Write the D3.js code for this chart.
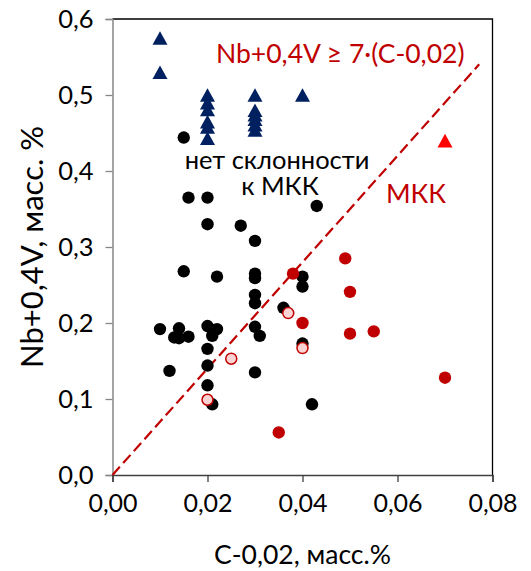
<!DOCTYPE html>
<html>
<head>
<meta charset="utf-8">
<script src="https://cdn.jsdelivr.net/npm/d3@7"></script>
<style>
  html, body { margin: 0; padding: 0; background: #fff; }
  svg { display: block; font-family: Lato, "Open Sans", sans-serif; }
</style>
</head>
<body>
<svg id="chart" width="531" height="571"></svg>
<script>
// Steels without a tendency to intergranular corrosion (triangles)
const navyTriangles = [
  [0.010, 0.575], [0.010, 0.530],
  [0.020, 0.500], [0.020, 0.490], [0.020, 0.481], [0.020, 0.465], [0.020, 0.458], [0.020, 0.443],
  [0.030, 0.500], [0.030, 0.480], [0.030, 0.474], [0.030, 0.468], [0.030, 0.461], [0.030, 0.454],
  [0.040, 0.500]
];
const redTriangles = [[0.070, 0.440]];

// Heats without intergranular corrosion (black circles)
const blackCircles = [
  [0.015, 0.444], [0.016, 0.365], [0.020, 0.365], [0.020, 0.330], [0.027, 0.328],
  [0.043, 0.354], [0.030, 0.308], [0.015, 0.268], [0.022, 0.261], [0.030, 0.265],
  [0.030, 0.259], [0.040, 0.261], [0.040, 0.248], [0.030, 0.237], [0.030, 0.226],
  [0.036, 0.220], [0.010, 0.192], [0.014, 0.193], [0.013, 0.181], [0.014, 0.180],
  [0.016, 0.182], [0.020, 0.196], [0.021, 0.191], [0.022, 0.192], [0.021, 0.183],
  [0.020, 0.166], [0.020, 0.144], [0.012, 0.137], [0.030, 0.195], [0.031, 0.183],
  [0.040, 0.173], [0.030, 0.135], [0.020, 0.118], [0.021, 0.093], [0.042, 0.093]
];

// Heats with intergranular corrosion (red circles)
const redCircles = [
  [0.038, 0.265], [0.040, 0.200], [0.049, 0.285], [0.050, 0.241],
  [0.050, 0.186], [0.055, 0.189], [0.070, 0.128], [0.035, 0.056]
];

// Borderline heats (pale circles with red outline)
const paleCircles = [
  [0.037, 0.213], [0.040, 0.167], [0.025, 0.153], [0.020, 0.099]
];

// Boundary Nb+0,4V = 7·(C-0,02)
const boundary = [[0, 0], [0.0772, 0.5404]];

const xTicks = [0, 0.02, 0.04, 0.06, 0.08];
const yTicks = [0, 0.1, 0.2, 0.3, 0.4, 0.5, 0.6];

const svg = d3.select("#chart");
const margin = { left: 112.5, right: 38.5, top: 19, bottom: 96 };
const W = 531, H = 571;

const x = d3.scaleLinear().domain([0, 0.08]).range([margin.left, W - margin.right]);
const y = d3.scaleLinear().domain([0, 0.6]).range([H - margin.bottom, margin.top]);

const fmtX = v => d3.format(".2f")(v).replace(".", ",");
const fmtY = v => d3.format(".1f")(v).replace(".", ",");

// plot frame (top and right)
svg.append("path")
  .attr("d", `M${x(0)},${y(0.6)}H${x(0.08)}V${y(0)}`)
  .attr("fill", "none").attr("stroke", "#000").attr("stroke-width", 1.3);

// y axis
const yAxis = svg.append("g")
  .attr("transform", `translate(${x(0)},0)`)
  .call(d3.axisLeft(y).tickValues(yTicks).tickFormat(fmtY).tickSize(7).tickPadding(12));
yAxis.select(".domain").attr("stroke", "#868686").attr("stroke-width", 1.5);
yAxis.selectAll(".tick line").attr("stroke", "#868686").attr("stroke-width", 1.3);
yAxis.selectAll(".tick text").attr("font-size", 25.5).attr("fill", "#000")
  .attr("font-family", "Lato, sans-serif");

// x axis
const xAxis = svg.append("g")
  .attr("transform", `translate(0,${y(0)})`)
  .call(d3.axisBottom(x).tickValues(xTicks).tickFormat(fmtX).tickSize(7).tickPadding(12));
xAxis.select(".domain").attr("stroke", "#404040").attr("stroke-width", 1.5);
xAxis.selectAll(".tick line").attr("stroke", "#404040").attr("stroke-width", 1.3);
xAxis.selectAll(".tick text").attr("font-size", 25).attr("fill", "#000")
  .attr("font-family", "Lato, sans-serif");

// boundary line
svg.append("path")
  .datum(boundary)
  .attr("d", d3.line().x(d => x(d[0])).y(d => y(d[1])))
  .attr("fill", "none")
  .attr("stroke", "#C00000")
  .attr("stroke-width", 2.2)
  .attr("stroke-dasharray", "11,5");

// markers
const R = 6.2;
svg.append("g").selectAll("circle").data(blackCircles).join("circle")
  .attr("cx", d => x(d[0])).attr("cy", d => y(d[1])).attr("r", R).attr("fill", "#000");

svg.append("g").selectAll("circle").data(redCircles).join("circle")
  .attr("cx", d => x(d[0])).attr("cy", d => y(d[1])).attr("r", R).attr("fill", "#C00000");

svg.append("g").selectAll("circle").data(paleCircles).join("circle")
  .attr("cx", d => x(d[0])).attr("cy", d => y(d[1])).attr("r", 5.5)
  .attr("fill", "#FBD3D3").attr("stroke", "#C00000").attr("stroke-width", 1.5);

const tri = (cx, cy) => {
  const hw = 7.5, hh = 6.8;
  return `M${cx},${cy - hh}L${cx + hw},${cy + hh}L${cx - hw},${cy + hh}Z`;
};
svg.append("g").selectAll("path").data(navyTriangles).join("path")
  .attr("d", d => tri(x(d[0]), y(d[1]))).attr("fill", "#002060");
svg.append("g").selectAll("path").data(redTriangles).join("path")
  .attr("d", d => tri(x(d[0]), y(d[1]))).attr("fill", "#FF0000");

// annotations
svg.append("text").attr("x", 216).attr("y", 63)
  .attr("font-size", 26.5).attr("fill", "#C00000")
  .text("Nb+0,4V ≥ 7·(C-0,02)");
const note = svg.append("text").attr("text-anchor", "middle")
  .attr("font-size", 25.5).attr("fill", "#000");
note.append("tspan").attr("x", 277).attr("y", 169).text("нет склонности");
note.append("tspan").attr("x", 280).attr("y", 194.5).text("к МКК");
svg.append("text").attr("x", 386).attr("y", 203)
  .attr("font-size", 26.5).attr("fill", "#C00000").text("МКК");

// axis titles
svg.append("text").attr("x", (x(0) + x(0.08)) / 2).attr("y", 564).attr("text-anchor", "middle")
  .attr("font-size", 26.5).attr("fill", "#000").text("C-0,02, масс.%");
svg.append("text")
  .attr("transform", `translate(43,${(y(0) + y(0.6)) / 2}) rotate(-90)`)
  .attr("text-anchor", "middle")
  .attr("font-size", 31).attr("fill", "#000").text("Nb+0,4V, масс. %");
</script>
</body>
</html>
